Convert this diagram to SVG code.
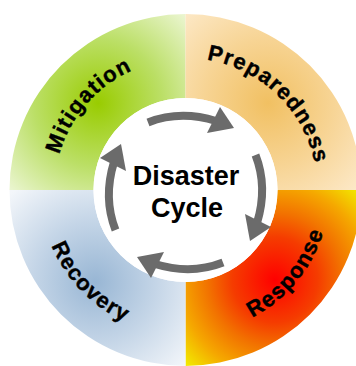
<svg xmlns="http://www.w3.org/2000/svg" width="356" height="366" viewBox="0 0 356 366">
<style>
.lbl{font-family:"Liberation Sans",Arial,sans-serif;font-weight:bold;font-size:22px;letter-spacing:1.2px;fill:#000;stroke:#000;stroke-width:0.4px}
.ctr{font-family:"Liberation Sans",Arial,sans-serif;font-weight:bold;font-size:27px;fill:#000;text-anchor:middle}
.shaft{fill:none;stroke:#6b6b6b;stroke-width:8}
.head{fill:#6b6b6b}
</style>
<defs>
<radialGradient id="gMit" gradientUnits="userSpaceOnUse" cx="98" cy="103" r="128">
<stop offset="0" stop-color="#99cc00"/>
<stop offset="0.5" stop-color="#bbdf66"/>
<stop offset="1" stop-color="#eef7d8"/>
</radialGradient>
<radialGradient id="gPrep" gradientUnits="userSpaceOnUse" cx="268" cy="103" r="128">
<stop offset="0" stop-color="#f1c062"/>
<stop offset="0.5" stop-color="#f7d494"/>
<stop offset="1" stop-color="#fdeacb"/>
</radialGradient>
<radialGradient id="gResp" gradientUnits="userSpaceOnUse" cx="275" cy="280" r="122">
<stop offset="0" stop-color="#ff0000"/>
<stop offset="0.35" stop-color="#f53c00"/>
<stop offset="0.55" stop-color="#f27200"/>
<stop offset="0.78" stop-color="#f5a800"/>
<stop offset="1" stop-color="#f2e800"/>
</radialGradient>
<radialGradient id="gRec" gradientUnits="userSpaceOnUse" cx="95" cy="282" r="122">
<stop offset="0" stop-color="#98b6d4"/>
<stop offset="0.5" stop-color="#c4d5e7"/>
<stop offset="1" stop-color="#f3f6fa"/>
</radialGradient>
<path id="pMit" d="M61.6,232.7 A131,131 0 0,1 210.5,61.4"/>
<path id="pPrep" d="M149.1,63.1 A132,132 0 0,1 313.6,221.9"/>
<path id="pResp" d="M161.7,332 A144,144 0 0,0 320.4,139.6"/>
<path id="pRec" d="M46.1,150 A145,145 0 0,0 220.6,330.7"/>
<g id="arrow">
<path class="shaft" d="M148,122.5 Q180,110 216,121"/>
<polygon class="head" points="220,107 234,128 207,133"/>
</g>
</defs>
<rect width="356" height="366" fill="#fff"/>
<g id="mitigation">
<path d="M9.5,190 A176,176 0 0,1 185.5,14 L185.5,98 A92,92 0 0,0 93.5,190 Z" fill="url(#gMit)"/>
<text class="lbl"><textPath href="#pMit" startOffset="50%" text-anchor="middle">Mitigation</textPath></text>
</g>
<g id="preparedness">
<path d="M185.5,14 A176,176 0 0,1 361.5,190 L277.5,190 A92,92 0 0,0 185.5,98 Z" fill="url(#gPrep)"/>
<text class="lbl"><textPath href="#pPrep" startOffset="50%" text-anchor="middle">Preparedness</textPath></text>
</g>
<g id="response">
<path d="M361.5,190 A176,176 0 0,1 185.5,366 L185.5,282 A92,92 0 0,0 277.5,190 Z" fill="url(#gResp)"/>
<text class="lbl"><textPath href="#pResp" startOffset="50%" text-anchor="middle">Response</textPath></text>
</g>
<g id="recovery">
<path d="M185.5,366 A176,176 0 0,1 9.5,190 L93.5,190 A92,92 0 0,0 185.5,282 Z" fill="url(#gRec)"/>
<text class="lbl"><textPath href="#pRec" startOffset="50%" text-anchor="middle">Recovery</textPath></text>
</g>
<g id="center">
<circle cx="185.5" cy="190" r="92" fill="#fff"/>
<text class="ctr" x="186" y="185">Disaster</text>
<text class="ctr" x="187" y="217">Cycle</text>
</g>
<g id="connectors">
<use href="#arrow"/>
<use href="#arrow" transform="rotate(90 185.5 192.5)"/>
<use href="#arrow" transform="rotate(180 185.5 192.5)"/>
<use href="#arrow" transform="rotate(270 185.5 192.5)"/>
</g>
</svg>
